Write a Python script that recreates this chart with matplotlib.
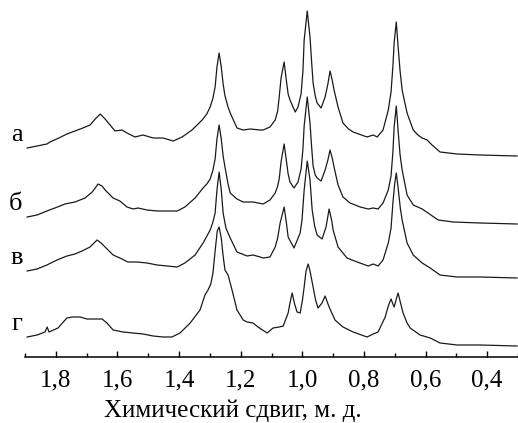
import matplotlib
matplotlib.use("Agg")
import matplotlib.pyplot as plt
from matplotlib.ticker import MultipleLocator, FuncFormatter

plt.rcParams['font.family'] = ['Liberation Serif', 'DejaVu Serif']

# 1H NMR spectra: chemical shift (ppm) and intensity above each baseline (arb. units)
shift_a = [1.893, 1.861, 1.829, 1.819, 1.790, 1.764, 1.738, 1.712, 1.689, 1.672, 1.656, 1.640, 1.624, 1.608,
           1.585, 1.569, 1.543, 1.517, 1.484, 1.452, 1.419, 1.390, 1.358, 1.325, 1.310, 1.299, 1.290, 1.283,
           1.277, 1.270, 1.263, 1.257, 1.251, 1.241, 1.234, 1.212, 1.192, 1.169, 1.137, 1.127, 1.105, 1.088,
           1.080, 1.075, 1.069, 1.059, 1.052, 1.046, 1.040, 1.023, 1.014, 1.004, 0.998, 0.994, 0.984, 0.975,
           0.970, 0.965, 0.958, 0.952, 0.939, 0.926, 0.917, 0.910, 0.903, 0.897, 0.884, 0.868, 0.850, 0.835,
           0.790, 0.770, 0.757, 0.738, 0.721, 0.712, 0.706, 0.702, 0.695, 0.689, 0.683, 0.676, 0.660, 0.640,
           0.625, 0.611, 0.595, 0.579, 0.553, 0.497, 0.423, 0.303]
int_a = [8, 10, 12, 14, 18, 22, 25, 28, 31, 37, 42, 37, 31, 25,
         26, 23, 19, 21, 18, 18, 15, 19, 26, 36, 42, 49, 58, 69,
         89, 103, 89, 72, 60, 49, 43, 28, 26, 27, 26, 26, 29, 36,
         45, 59, 78, 94, 76, 62, 56, 44, 49, 62, 85, 116, 145, 119,
         95, 73, 60, 53, 48, 59, 72, 85, 76, 66, 49, 33, 27, 24,
         19, 21, 19, 26, 46, 64, 90, 113, 134, 109, 86, 66, 43, 26,
         21, 18, 16, 11, 4, 2, 1, 0]

shift_b = [1.893, 1.861, 1.829, 1.803, 1.770, 1.738, 1.705, 1.682, 1.672, 1.663, 1.650, 1.640, 1.614, 1.592,
           1.569, 1.549, 1.533, 1.504, 1.471, 1.439, 1.406, 1.381, 1.348, 1.322, 1.310, 1.299, 1.290, 1.283,
           1.277, 1.270, 1.263, 1.257, 1.251, 1.241, 1.234, 1.212, 1.192, 1.160, 1.127, 1.105, 1.088, 1.080,
           1.075, 1.069, 1.059, 1.052, 1.046, 1.040, 1.027, 1.014, 1.004, 0.998, 0.994, 0.984, 0.975, 0.970,
           0.965, 0.958, 0.952, 0.939, 0.926, 0.917, 0.910, 0.903, 0.897, 0.884, 0.868, 0.845, 0.812, 0.786,
           0.770, 0.754, 0.738, 0.721, 0.712, 0.706, 0.702, 0.695, 0.689, 0.683, 0.676, 0.660, 0.640, 0.611,
           0.592, 0.559, 0.510, 0.423, 0.303]
int_b = [7, 9, 13, 16, 20, 22, 26, 32, 36, 40, 38, 34, 26, 23,
         17, 15, 16, 14, 13, 13, 13, 17, 26, 36, 40, 45, 54, 65,
         85, 99, 85, 68, 57, 40, 31, 25, 22, 22, 20, 24, 31, 38,
         45, 62, 80, 64, 50, 42, 36, 42, 55, 75, 98, 127, 101, 78,
         58, 49, 46, 43, 54, 64, 74, 66, 57, 39, 27, 21, 17, 15,
         16, 15, 21, 34, 48, 72, 97, 118, 93, 70, 54, 29, 19, 15,
         11, 4, 2, 1, 0]

shift_v = [1.893, 1.861, 1.829, 1.796, 1.764, 1.738, 1.715, 1.689, 1.676, 1.666, 1.653, 1.640, 1.614, 1.592,
           1.566, 1.536, 1.504, 1.471, 1.439, 1.406, 1.381, 1.348, 1.322, 1.299, 1.290, 1.283, 1.277, 1.270,
           1.263, 1.257, 1.248, 1.234, 1.212, 1.179, 1.160, 1.137, 1.127, 1.105, 1.088, 1.080, 1.072, 1.059,
           1.052, 1.046, 1.027, 1.007, 1.001, 0.994, 0.984, 0.975, 0.968, 0.960, 0.952, 0.936, 0.923, 0.913,
           0.905, 0.900, 0.884, 0.855, 0.822, 0.786, 0.770, 0.754, 0.738, 0.721, 0.712, 0.706, 0.700, 0.695,
           0.689, 0.682, 0.676, 0.660, 0.640, 0.611, 0.585, 0.553, 0.497, 0.423, 0.303]
int_v = [7, 9, 13, 18, 22, 24, 27, 31, 35, 38, 35, 31, 23, 20,
         16, 16, 15, 13, 12, 11, 15, 23, 35, 48, 56, 65, 88, 106,
         88, 65, 50, 40, 26, 22, 23, 21, 20, 21, 31, 40, 55, 71,
         56, 41, 30, 45, 58, 88, 117, 98, 68, 52, 43, 39, 51, 69,
         58, 48, 31, 20, 16, 12, 14, 12, 18, 35, 50, 75, 95, 105,
         90, 70, 58, 35, 23, 15, 10, 3, 1, 1, 0]

shift_g = [1.893, 1.861, 1.835, 1.828, 1.822, 1.793, 1.764, 1.747, 1.721, 1.699, 1.679, 1.650, 1.634, 1.614,
           1.582, 1.549, 1.517, 1.484, 1.452, 1.423, 1.397, 1.364, 1.332, 1.316, 1.306, 1.297, 1.290, 1.283,
           1.276, 1.270, 1.263, 1.257, 1.251, 1.241, 1.228, 1.212, 1.192, 1.179, 1.160, 1.144, 1.114, 1.095,
           1.075, 1.062, 1.046, 1.040, 1.033, 1.025, 1.017, 1.007, 1.000, 0.994, 0.988, 0.981, 0.975, 0.965,
           0.957, 0.949, 0.936, 0.926, 0.919, 0.913, 0.894, 0.868, 0.835, 0.790, 0.770, 0.754, 0.731, 0.721,
           0.712, 0.706, 0.702, 0.695, 0.689, 0.682, 0.673, 0.660, 0.650, 0.618, 0.585, 0.553, 0.497, 0.423,
           0.303]
int_g = [9, 11, 14, 19, 14, 18, 28, 29, 29, 27, 27, 27, 23, 16,
         14, 13, 12, 10, 9, 9, 13, 23, 36, 51, 56, 62, 73, 95,
         115, 119, 108, 90, 76, 71, 56, 36, 26, 24, 23, 19, 13, 18,
         19, 20, 33, 43, 53, 42, 34, 33, 45, 59, 75, 82, 75, 59,
         46, 38, 43, 50, 44, 39, 26, 19, 14, 9, 12, 14, 29, 40,
         47, 42, 39, 47, 53, 44, 33, 23, 18, 11, 8, 3, 1, 1,
         0]

labels = ['а', 'б', 'в', 'г']
offsets = [201, 133, 79, 11]

fig = plt.figure(figsize=(5.18, 4.23), dpi=100)
ax = fig.add_axes([25 / 518, 66 / 423, 493 / 518, 357 / 423])

traces = [(shift_a, int_a), (shift_b, int_b), (shift_v, int_v), (shift_g, int_g)]
for (x, y), off, lab in zip(traces, offsets, labels):
    ax.plot(x, [v + off for v in y], color='#1a1a1a', linewidth=0.9)
    # letter sits just left of the trace start, a little above it
    ax.text(-0.005, off + y[0] + 13, lab, transform=ax.get_yaxis_transform(),
            ha='right', va='center', fontsize=19)

ax.set_xlim(1.9, 0.3)
ax.set_ylim(0, 357)

ax.xaxis.set_major_locator(MultipleLocator(0.2))
ax.xaxis.set_minor_locator(MultipleLocator(0.1))
ax.xaxis.set_major_formatter(FuncFormatter(lambda v, p: f"{v:.1f}".replace('.', ',')))
ax.tick_params(axis='x', which='major', direction='in', length=4, width=1, labelsize=18, pad=9)
ax.tick_params(axis='x', which='minor', direction='in', length=3, width=1)
ax.set_yticks([])
for side in ['left', 'top', 'right']:
    ax.spines[side].set_visible(False)
ax.spines['bottom'].set_linewidth(1.1)

ax.set_xlabel("Химический сдвиг, м. д.", fontsize=18)
ax.xaxis.set_label_coords(0.422, -0.118)

fig.savefig("out.png", dpi=100)
